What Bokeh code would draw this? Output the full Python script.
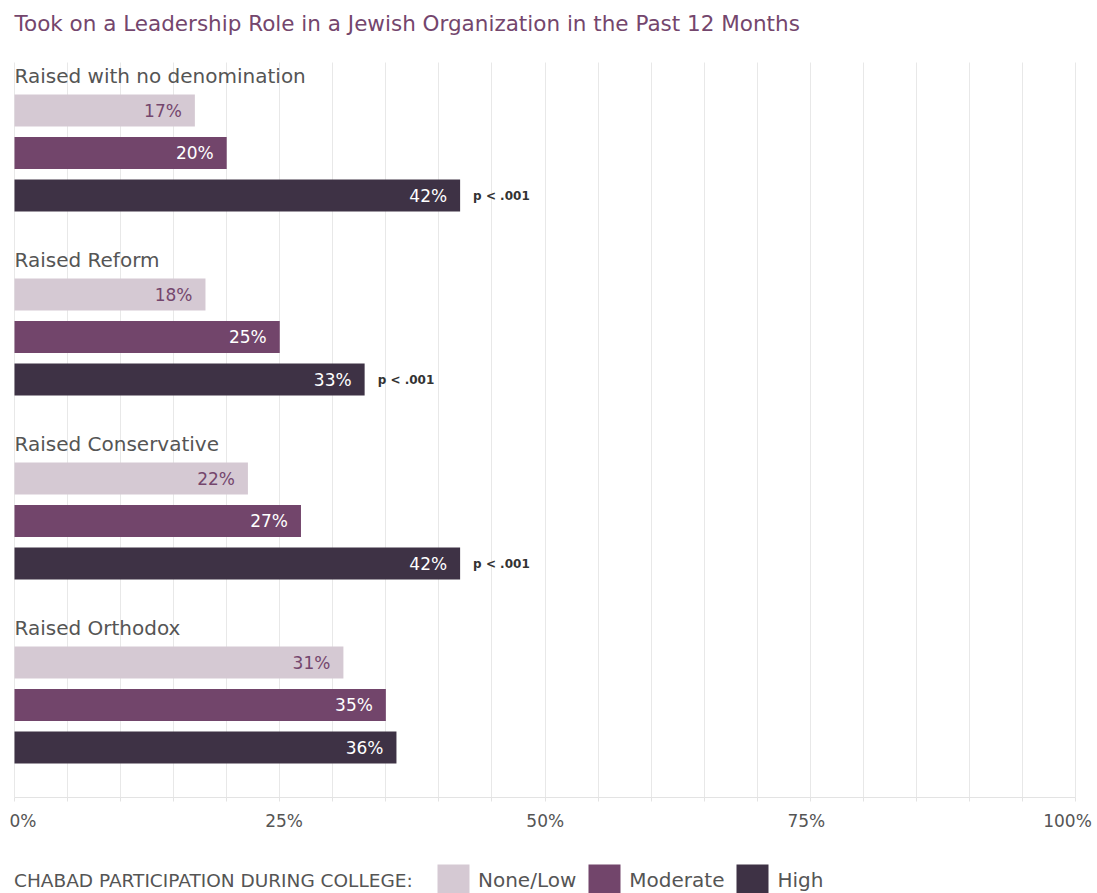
from bokeh.plotting import figure
from bokeh.models import (Range1d, ColumnDataSource, Legend, LegendItem,
                          FixedTicker, LinearAxis)
from bokeh.core.properties import value
from bokeh.embed import file_html
from bokeh.resources import INLINE

# ---------------- data ----------------
groups = ["Raised with no denomination", "Raised Reform",
          "Raised Conservative", "Raised Orthodox"]
levels = ["None/Low", "Moderate", "High"]
none_low = [17, 18, 22, 31]
moderate = [20, 25, 27, 35]
high = [42, 33, 42, 36]
p_values = ["p < .001", "p < .001", "p < .001", ""]
tick_values = [0, 25, 50, 75, 100]
tick_labels = ["0%", "25%", "50%", "75%", "100%"]
title_text = "Took on a Leadership Role in a Jewish Organization in the Past 12 Months"
legend_title = "CHABAD PARTICIPATION DURING COLLEGE:"

# ---------------- style ----------------
FONT = "DejaVu Sans"
colors = ["#d5c9d3", "#72456b", "#3e3245"]
label_colors = ["#74466d", "#ffffff", "#ffffff"]
TEXT_GRAY = "#555555"
GRID = "#e8e8e8"

# layout (vertical units = pixels of the drawing area)
TITLE_Y = 23
PLOT_TOP = 62
FIRST_BAR = 110
GROUP_STEP = 184
BAR_STEP = 42.5
BAR_H = 32
LABEL_GAP = 35
AXIS_Y = 797      # baseline position of the x axis
BOTTOM = 893      # bottom of the drawing area
W = 1097
LEFT_PX, RIGHT_PX = 14, 1075   # where 0% and 100% sit
scale = (RIGHT_PX - LEFT_PX) / 100.0
x_start = -LEFT_PX / scale
x_end = x_start + W / scale

p = figure(width=W, height=BOTTOM, x_range=Range1d(x_start, x_end),
           y_range=Range1d(BOTTOM, 0), output_backend="svg",
           toolbar_location=None, y_axis_location=None,
           min_border_left=0, min_border_right=0, min_border_top=0,
           min_border_bottom=0, outline_line_color=None,
           background_fill_color="white", border_fill_color="white")

# chart title
p.text(x=[0], y=[TITLE_Y], text=[title_text], text_align="left",
       text_baseline="middle", text_font=value(FONT),
       text_font_size="21.5px", text_color="#74466d")

series = [none_low, moderate, high]
renderers = []
for k, vals in enumerate(series):
    ys = [FIRST_BAR + g * GROUP_STEP + k * BAR_STEP for g in range(len(groups))]
    src = ColumnDataSource(dict(y=ys, right=vals,
                                lab=[f"{v}%" for v in vals]))
    r = p.hbar(y="y", left=0, right="right", height=BAR_H, source=src,
               fill_color=colors[k], line_color=None)
    renderers.append(r)
    p.text(x="right", y="y", text="lab", source=src, x_offset=-13,
           text_align="right", text_baseline="middle",
           text_font=value(FONT), text_font_size="17px",
           text_color=label_colors[k])

# p-values next to high bars
pv_src = ColumnDataSource(dict(
    x=high,
    y=[FIRST_BAR + g * GROUP_STEP + 2 * BAR_STEP for g in range(len(groups))],
    t=p_values))
p.text(x="x", y="y", text="t", source=pv_src, x_offset=13,
       text_align="left", text_baseline="middle", text_font=value(FONT),
       text_font_size="12px", text_font_style="bold", text_color="#333333")

# group labels
gl_src = ColumnDataSource(dict(
    x=[0] * len(groups),
    y=[FIRST_BAR + g * GROUP_STEP - LABEL_GAP for g in range(len(groups))],
    t=groups))
p.text(x="x", y="y", text="t", source=gl_src, text_align="left",
       text_baseline="middle", text_font=value(FONT), text_font_size="20px",
       text_color=TEXT_GRAY)

# grid (only between plot top and the axis)
p.ygrid.visible = False
p.xgrid.ticker = FixedTicker(ticks=list(range(0, 101, 5)))
p.xgrid.grid_line_color = GRID
p.xgrid.cross_bounds = (PLOT_TOP, AXIS_Y)

# main axis: line + tick marks only
ax = p.xaxis[0]
ax.fixed_location = AXIS_Y
ax.bounds = (0, 100)
ax.ticker = FixedTicker(ticks=[], minor_ticks=list(range(0, 101, 5)))
ax.axis_line_color = "#e3e3e3"
ax.minor_tick_line_color = "#e3e3e3"
ax.minor_tick_in = 0
ax.minor_tick_out = 4
ax.major_tick_out = 4
ax.major_tick_in = 0
ax.major_label_standoff = 0

# label axis: labels spread as in the original (0% at 22px, 100% at 1067px)
lab_scale = (1067 - 22.5) / 100.0
lab_start = -22.5 / lab_scale
p.extra_x_ranges = {"labels": Range1d(lab_start, lab_start + W / lab_scale)}
lab_ax = LinearAxis(x_range_name="labels", fixed_location=AXIS_Y,
                    ticker=FixedTicker(ticks=tick_values, minor_ticks=[]),
                    major_label_overrides={v: t for v, t in zip(tick_values, tick_labels)},
                    axis_line_color=None, major_tick_line_color=None,
                    minor_tick_line_color=None, major_tick_out=0, major_tick_in=0,
                    major_label_standoff=13,
                    major_label_text_font=FONT, major_label_text_font_size="17px",
                    major_label_text_color=TEXT_GRAY)
p.add_layout(lab_ax, "below")

# legend heading (an item without a visible glyph)
dummy = p.hbar(y=[], left=[], right=[], height=1, fill_alpha=0, line_alpha=0)
legend_head = Legend(items=[LegendItem(label=legend_title, renderers=[dummy])],
                     orientation="horizontal", location=(LEFT_PX, -7),
                     label_text_font=FONT, label_text_font_size="18.5px",
                     label_text_color=TEXT_GRAY, label_standoff=0,
                     glyph_width=0, glyph_height=40, padding=0, margin=0,
                     border_line_color=None, background_fill_alpha=0)
p.add_layout(legend_head, "center")

legend = Legend(items=[LegendItem(label=levels[k], renderers=[renderers[k]])
                       for k in range(3)],
                orientation="horizontal", location=(433, -7),
                label_text_font=FONT, label_text_font_size="20px",
                label_text_color=TEXT_GRAY, label_standoff=5,
                glyph_width=40, glyph_height=40, spacing=8,
                padding=0, margin=0, border_line_color=None,
                background_fill_alpha=0)
p.add_layout(legend, "center")

open("out.html", "w").write(file_html(p, INLINE))
